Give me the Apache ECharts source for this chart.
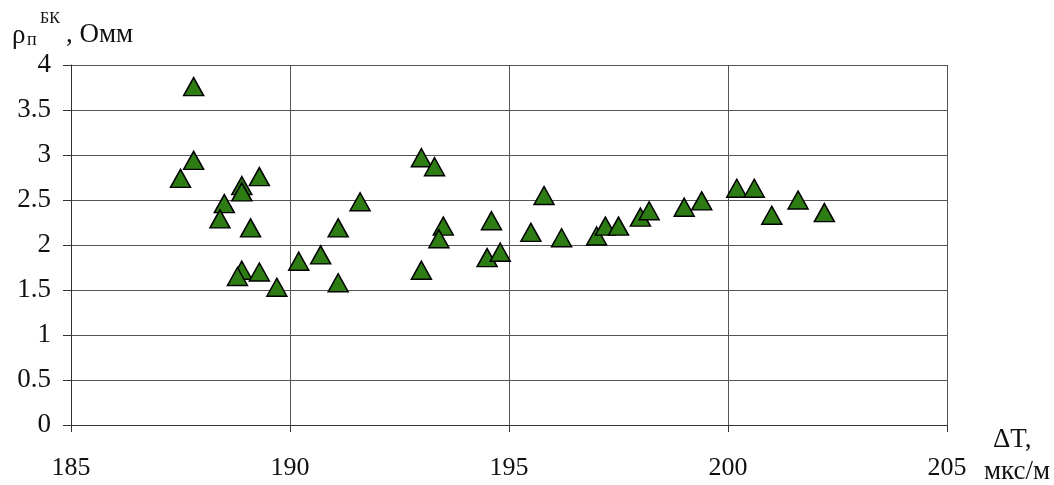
<!DOCTYPE html>
<html>
<head>
<meta charset="utf-8">
<script src="https://cdn.jsdelivr.net/npm/echarts@6/dist/echarts.min.js"></script>
<style>
html,body{margin:0;padding:0;background:#fff;}
#chart{width:1054px;height:485px;}
</style>
</head>
<body>
<div id="chart"></div>
<script>
const xValues = [187.5, 187.8, 187.8, 188.5, 188.4, 188.9, 188.9, 189.3, 189.1, 188.9, 188.8, 189.3, 189.7, 190.2, 190.7, 191.1, 191.1, 191.6, 193.0, 193.3, 193.0, 193.5, 193.4, 194.6, 194.5, 194.8, 195.5, 195.8, 196.2, 197.0, 197.2, 197.5, 198.0, 198.2, 199.0, 199.4, 200.2, 200.6, 201.0, 201.6, 202.2];
const yValues = [2.74, 3.76, 2.94, 2.46, 2.29, 2.66, 2.59, 2.76, 2.19, 1.72, 1.65, 1.70, 1.53, 1.82, 1.89, 2.19, 1.58, 2.48, 2.97, 2.87, 1.72, 2.21, 2.07, 2.27, 1.86, 1.92, 2.14, 2.55, 2.08, 2.10, 2.21, 2.21, 2.31, 2.38, 2.42, 2.49, 2.63, 2.63, 2.33, 2.50, 2.36];
const xTicks = [185, 190, 195, 200, 205];
const yTicks = [0, 0.5, 1, 1.5, 2, 2.5, 3, 3.5, 4];

const points = xValues.map((x, i) => [x, yValues[i]]);
const font = '"Liberation Serif", "Times New Roman", serif';

const chart = echarts.init(document.getElementById('chart'), null, {renderer: 'canvas'});
chart.setOption({
  backgroundColor: '#ffffff',
  animation: false,
  grid: {left: 71, right: 107, top: 65, bottom: 60, containLabel: false},
  xAxis: {
    type: 'value',
    min: xTicks[0], max: xTicks[xTicks.length - 1], interval: 5,
    axisLine: {show: true, lineStyle: {color: '#333', width: 1}},
    axisTick: {show: true, length: 7, lineStyle: {color: '#333'}},
    splitLine: {show: true, lineStyle: {color: '#555', width: 1}},
    axisLabel: {color: '#111', fontFamily: font, fontSize: 26, margin: 30,
      formatter: v => String(v)}
  },
  yAxis: {
    type: 'value',
    min: yTicks[0], max: yTicks[yTicks.length - 1], interval: 0.5,
    axisLine: {show: true, lineStyle: {color: '#333', width: 1}},
    axisTick: {show: true, length: 8, lineStyle: {color: '#333'}},
    splitLine: {show: true, lineStyle: {color: '#555', width: 1}},
    axisLabel: {color: '#111', fontFamily: font, fontSize: 27, margin: 20,
      formatter: v => String(v)}
  },
  graphic: [
    {type: 'text', left: 12, top: 22, style: {text: 'ρ', font: '27px ' + font, fill: '#111'}},
    {type: 'text', left: 27, top: 31, style: {text: 'п', font: '18px ' + font, fill: '#111'}},
    {type: 'text', left: 40, top: 11, style: {text: 'БК', font: '16px ' + font, fill: '#111'}},
    {type: 'text', left: 66, top: 21, style: {text: ', Омм', font: '27px ' + font, fill: '#111'}},
    {type: 'text', left: 993, top: 426, style: {text: 'ΔT,', font: '27px ' + font, fill: '#111'}},
    {type: 'text', left: 984, top: 458, style: {text: 'мкс/м', font: '27px ' + font, fill: '#111'}}
  ],
  series: [{
    type: 'scatter',
    data: points,
    symbol: 'triangle',
    symbolSize: [20, 18],
    itemStyle: {color: '#2e7d14', borderColor: '#000', borderWidth: 1.5, opacity: 1}
  }]
});
</script>
</body>
</html>
